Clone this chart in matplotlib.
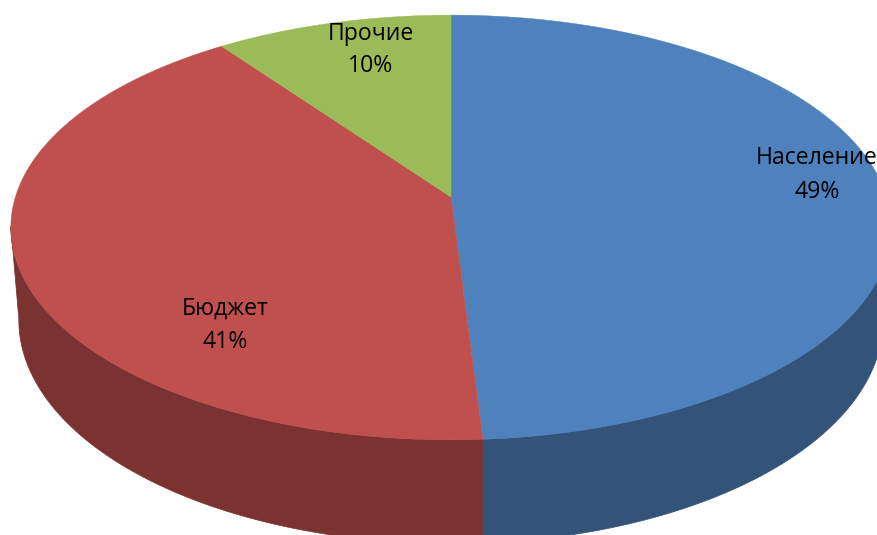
import numpy as np
import matplotlib
matplotlib.use('Agg')
import matplotlib.pyplot as plt

categories = ['Население', 'Бюджет', 'Прочие']
values = [49, 41, 10]
top_colors = ['#4F81BD', '#C0504D', '#9BBB59']
side_colors = ['#335378', '#7B3331', '#5E7235']

plt.rcParams['font.family'] = ['Open Sans', 'DejaVu Sans']

cx = 451          #centre of the pie, pixels
tilt = 0.1435     #perspective strength
face_top = (435.6, 208.0, 197.0)    #a, b, y0 of the top face
face_low = (427.7, 219.0, 288.0)    #same for the bottom rim
front = (98, 262)                   #part of the rim that faces the viewer, degrees


def project(theta, face):
    #theta in degrees, clockwise from 12 o'clock
    a, b, y0 = face
    u = np.sin(np.radians(theta))
    v = np.cos(np.radians(theta))
    d = 1 + tilt*v
    return cx + a*u/d, y0 - b*v/d


fig = plt.figure(figsize=(8.78, 5.35), dpi=100)
ax = fig.add_axes([0, 0, 1, 1])
ax.set_xlim(0, 878)
ax.set_ylim(535, 0)
ax.axis('off')

edges = np.concatenate([[0], np.cumsum(values)])/np.sum(values)*360

#side walls first, the top face hides whatever sticks out behind it
for i in range(len(values)):
    start = max(edges[i], front[0])
    stop = min(edges[i+1], front[1])
    if start >= stop:
        continue
    t = np.linspace(start, stop, 200)
    xt, yt = project(t, face_top)
    xl, yl = project(t, face_low)
    ax.fill(np.r_[xt, xl[::-1]], np.r_[yt, yl[::-1]], color=side_colors[i], lw=0.5)

#top face
for i in range(len(values)):
    t = np.linspace(edges[i], edges[i+1], 300)
    x, y = project(t, face_top)
    ax.fill(np.r_[cx, x], np.r_[face_top[2], y], color=top_colors[i], lw=0.3)

label_pos = [(817, 175), (225, 325), (371, 50)]
for i in range(len(values)):
    ax.text(label_pos[i][0], label_pos[i][1], '%s\n%d%%' % (categories[i], values[i]),
            ha='center', va='center', fontsize=16.6, color='black', linespacing=1.5)

fig.savefig('out.png', dpi=100)
